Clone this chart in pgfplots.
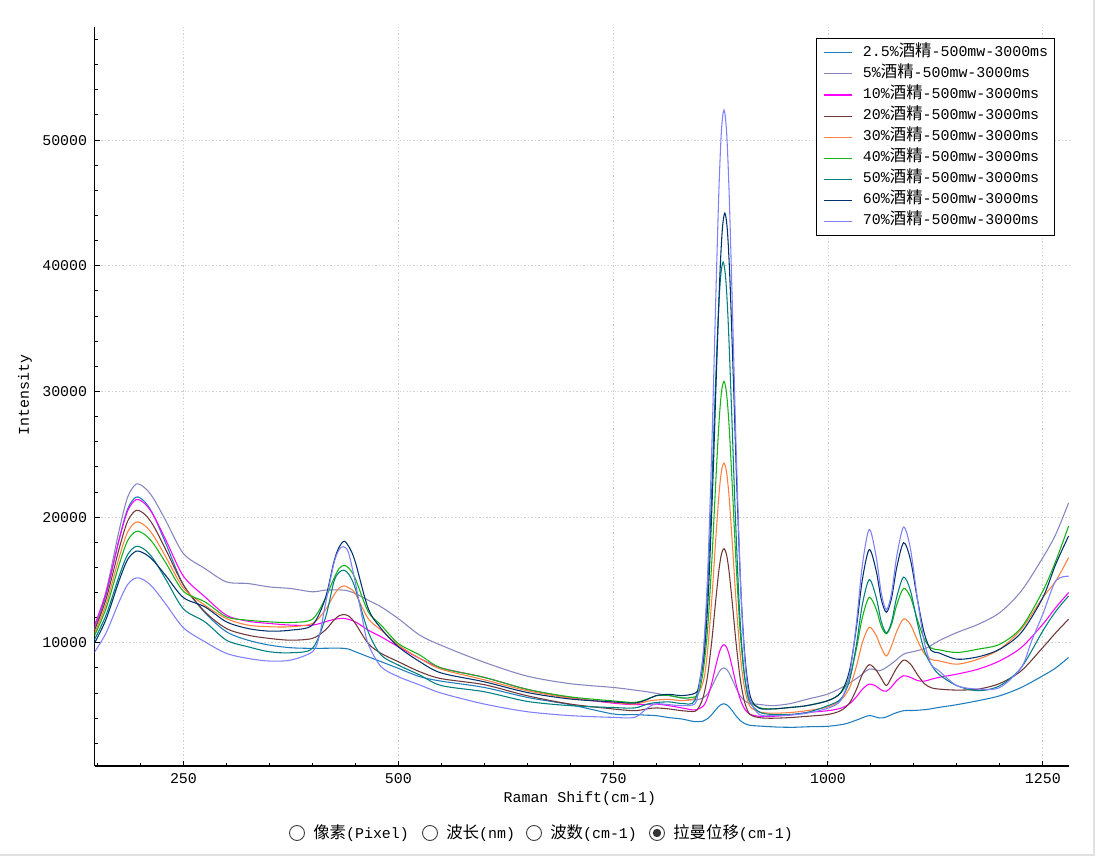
\documentclass[border=0pt]{standalone}
\usepackage{fontspec}
\setmainfont{Liberation Mono}
\newfontfamily\cjk[Scale=1.1]{Noto Sans CJK SC}
\usepackage{pgfplots}
\pgfplotsset{compat=1.18}
\definecolor{cA}{RGB}{31,125,190}
\definecolor{cB}{RGB}{135,135,192}
\definecolor{cC}{RGB}{255,0,255}
\definecolor{cD}{RGB}{112,56,56}
\definecolor{cE}{RGB}{255,128,64}
\definecolor{cF}{RGB}{20,180,20}
\definecolor{cG}{RGB}{0,128,128}
\definecolor{cH}{RGB}{0,50,110}
\definecolor{cI}{RGB}{128,128,255}
\definecolor{frame}{RGB}{225,225,225}
\newcommand{\lbl}{\fontsize{11.2}{13}\selectfont}
\newcommand{\jj}{{\cjk 酒精}}
\begin{document}
\begin{tikzpicture}
\useasboundingbox (0,0) rectangle (822.75pt,642.75pt);
\fill[white] (0,0) rectangle (822.75pt,642.75pt);
\begin{axis}[
  at={(70.875pt,68.25pt)}, anchor=south west,
  scale only axis, width=730.9pt, height=554.25pt,
  xmin=146.5, xmax=1280.5, ymin=200, ymax=59000,
  axis lines*=left,
  axis line style={-, line width=1pt, black},
  tick align=inside,
  major tick length=3.75pt, minor tick length=2.25pt,
  tick style={black, line width=0.75pt},
  xtick={250,500,750,1000,1250},
  ytick={10000,20000,30000,40000,50000},
  minor xtick={150,200,...,1250},
  minor ytick={2000,4000,...,58000},
  scaled y ticks=false, scaled x ticks=false,
  /pgf/number format/assume math mode=true,
  /pgf/number format/1000 sep={},
  tick label style={font=\lbl},
  xticklabel style={yshift=-2.4pt},
  yticklabel style={xshift=-2pt},
  grid=major,
  major grid style={dash pattern=on 1pt off 1.6pt, gray!38, line width=0.6pt},
  xlabel={Raman Shift(cm-1)},
  ylabel={Intensity},
  label style={font=\lbl},
  xlabel style={at={(axis description cs:0.498,-0.0447)}, anchor=center},
  ylabel style={at={(axis description cs:-0.0713,0.502)}, anchor=center},
  legend image code/.code={\draw[#1] (0pt,0pt) -- (21pt,0pt);},
  legend cell align=left,
  legend style={at={(axis description cs:0.7404,0.985)}, anchor=north west,
    draw=black, line width=0.75pt, fill=white,
    font=\lbl, inner xsep=5pt, inner ysep=2.8pt,
    row sep=0pt, column sep=8pt,
    nodes={inner xsep=0pt, inner ysep=2.4pt, text height=8pt, text depth=3pt}},
  every axis plot/.append style={line width=0.8pt},
]
\addplot[cA, smooth] coordinates {(146,11000)(160,13840)(175,18200)(185,20640)(195,21600)(205,21220)(215,20180)(230,17820)(250,14600)(275,12400)(300,10880)(325,10210)(350,9820)(375,9610)(400,9560)(437,9560)(450,9290)(465,8890)(480,8500)(500,7970)(525,7310)(550,6950)(600,6450)(650,5660)(700,5080)(750,4340)(775,4290)(790,4240)(800,4210)(815,4050)(830,3940)(845,3730)(855,3780)(860,3970)(865,4310)(869,4640)(873,4950)(876,5100)(879,5150)(882,5080)(885,4900)(889,4560)(893,4190)(898,3810)(903,3580)(909,3440)(920,3380)(940,3300)(960,3280)(980,3330)(1000,3360)(1020,3550)(1035,3900)(1048,4210)(1060,4020)(1068,4100)(1076,4350)(1088,4600)(1100,4620)(1115,4700)(1129,4860)(1150,5080)(1175,5400)(1200,5790)(1225,6450)(1250,7380)(1265,8000)(1280,8840)};
\addlegendentry{2.5\%\jj-500mw-3000ms}
\addplot[cB, smooth] coordinates {(146,11000)(160,14120)(175,18900)(185,21580)(195,22630)(205,22330)(215,21500)(230,19650)(250,17100)(275,15910)(300,14850)(325,14720)(350,14450)(375,14320)(400,14060)(415,14190)(437,14190)(450,13920)(465,13390)(480,12860)(500,11930)(525,10610)(550,9800)(600,8450)(650,7350)(700,6750)(750,6450)(775,6240)(790,6100)(800,5980)(815,5790)(830,5610)(845,5450)(855,5630)(860,5960)(865,6540)(869,7120)(873,7650)(876,7920)(879,8000)(882,7890)(885,7590)(889,7020)(893,6400)(898,5770)(903,5390)(909,5170)(920,5100)(935,5000)(955,5150)(975,5500)(1000,5930)(1020,6590)(1035,7250)(1048,7910)(1060,7780)(1068,8050)(1076,8440)(1088,9100)(1100,9310)(1115,9600)(1129,10160)(1150,10820)(1175,11480)(1200,12410)(1225,14130)(1250,16780)(1265,18630)(1280,21140)};
\addlegendentry{5\%\jj-500mw-3000ms}
\addplot[cC, smooth] coordinates {(146,11300)(160,14010)(175,18160)(185,20490)(195,21400)(205,21070)(215,20160)(230,18110)(250,15300)(275,13660)(300,12200)(325,11720)(350,11540)(375,11410)(400,11410)(415,11670)(425,11860)(437,11940)(450,11670)(465,11010)(480,10480)(500,9690)(525,8760)(550,8000)(600,7250)(650,6300)(700,5650)(750,5200)(775,5080)(790,5100)(800,5130)(815,5000)(830,4820)(845,4660)(855,4980)(860,5680)(865,6870)(869,8040)(873,9120)(876,9670)(879,9850)(882,9640)(885,9060)(889,7940)(893,6730)(898,5490)(903,4740)(909,4330)(920,4150)(935,4150)(955,4250)(975,4450)(1000,4600)(1015,4800)(1025,5150)(1033,5700)(1040,6300)(1048,6720)(1056,6550)(1062,6250)(1068,6150)(1074,6500)(1080,7000)(1088,7380)(1096,7250)(1104,7000)(1112,6950)(1120,7100)(1129,7250)(1150,7510)(1175,7910)(1200,8570)(1225,9630)(1250,11480)(1265,12800)(1280,14000)};
\addlegendentry{10\%\jj-500mw-3000ms}
\addplot[cD, smooth] coordinates {(146,10900)(160,13490)(175,17450)(185,19670)(195,20540)(205,20220)(215,19330)(230,17340)(250,14600)(275,12470)(300,11140)(325,10610)(350,10350)(375,10210)(400,10350)(415,11010)(425,11800)(431,12150)(437,12250)(443,12100)(450,11540)(465,9950)(480,9160)(500,8500)(525,7700)(550,7150)(600,6670)(650,5790)(700,5130)(750,4740)(775,4600)(790,4750)(800,4820)(815,4740)(830,4600)(845,4550)(850,4900)(855,5725)(860,7425)(865,10290)(869,13110)(873,15730)(876,17050)(879,17500)(882,17000)(885,15620)(889,12930)(893,10030)(898,7080)(903,5285)(909,4320)(920,4050)(935,4000)(955,4050)(975,4150)(1000,4300)(1015,4610)(1025,5210)(1033,6280)(1040,7490)(1048,8260)(1056,7830)(1062,7180)(1068,6600)(1074,7260)(1080,8000)(1088,8630)(1096,8310)(1104,7480)(1112,6760)(1120,6430)(1129,6320)(1150,6240)(1175,6320)(1200,6770)(1225,7780)(1250,9630)(1265,10800)(1280,11880)};
\addlegendentry{20\%\jj-500mw-3000ms}
\addplot[cE, smooth] coordinates {(146,10700)(160,13090)(175,16750)(185,18810)(195,19610)(205,19330)(215,18540)(230,16770)(250,14350)(275,12990)(300,11930)(325,11410)(350,11280)(375,11280)(400,11540)(415,12600)(425,13790)(431,14350)(437,14530)(443,14350)(450,13920)(465,11930)(480,11010)(500,9820)(525,8760)(550,7900)(600,7060)(650,6190)(700,5600)(750,5260)(775,5130)(790,5350)(800,5450)(815,5500)(830,5400)(845,5600)(855,6940)(860,9450)(865,13670)(869,17820)(873,21690)(876,23640)(879,24300)(882,23570)(885,21550)(889,17590)(893,13340)(898,9000)(903,6380)(909,4970)(920,4500)(935,4400)(955,4450)(975,4600)(1000,4900)(1015,5450)(1025,6410)(1033,8110)(1040,10010)(1048,11240)(1056,10600)(1062,9610)(1068,8950)(1074,9760)(1080,10910)(1088,11900)(1096,11450)(1104,10210)(1112,9150)(1120,8680)(1129,8570)(1150,8300)(1175,8700)(1200,9500)(1225,11090)(1250,13600)(1265,14920)(1280,16780)};
\addlegendentry{30\%\jj-500mw-3000ms}
\addplot[cF, smooth] coordinates {(146,10500)(160,12740)(175,16190)(185,18120)(195,18870)(205,18610)(215,17900)(230,16300)(250,14100)(275,13260)(300,12070)(325,11800)(350,11670)(375,11620)(400,11880)(415,13520)(425,15110)(431,15900)(437,16170)(443,15900)(450,15110)(465,12470)(480,11410)(500,9950)(525,9030)(550,8000)(600,7250)(650,6300)(700,5700)(750,5380)(775,5260)(790,5530)(800,5790)(815,5820)(830,5620)(845,5700)(850,6120)(855,7820)(860,11140)(865,16730)(869,22220)(873,27330)(876,29910)(879,30800)(882,29840)(885,27190)(889,21990)(893,16400)(898,10700)(903,7260)(909,5420)(920,4850)(935,4740)(955,4850)(975,5000)(1000,5400)(1015,6020)(1025,7250)(1033,9500)(1040,12010)(1048,13620)(1056,12690)(1062,11320)(1068,10720)(1074,11470)(1080,13020)(1088,14330)(1096,13630)(1104,11850)(1112,10310)(1120,9590)(1129,9450)(1150,9230)(1175,9500)(1200,9890)(1225,11220)(1250,14130)(1265,16500)(1280,19290)};
\addlegendentry{40\%\jj-500mw-3000ms}
\addplot[cG, smooth] coordinates {(146,10200)(160,12210)(175,15280)(185,17010)(195,17680)(205,17410)(215,16670)(230,14990)(250,12700)(275,11670)(300,10210)(325,9690)(350,9290)(375,9210)(400,9560)(415,11940)(425,14850)(431,15600)(437,15780)(443,15400)(450,14320)(465,10880)(480,9030)(500,8230)(525,7440)(550,6600)(600,6110)(650,5340)(700,5000)(750,4850)(775,4820)(790,5130)(800,5250)(815,5300)(830,5180)(845,5400)(854,8520)(859,13130)(864,20840)(868,28430)(872,35490)(875,39060)(878,40300)(881,38990)(884,35350)(888,28200)(892,20520)(897,12680)(902,7960)(908,5450)(920,4500)(935,4300)(955,4300)(975,4450)(1000,5000)(1015,5540)(1025,6980)(1033,9830)(1040,13050)(1048,15030)(1056,13640)(1062,11690)(1068,10790)(1074,11670)(1080,13640)(1088,15230)(1096,14140)(1104,11600)(1112,9400)(1120,8290)(1129,7500)(1150,6590)(1175,6190)(1200,6590)(1225,8040)(1250,10950)(1265,12500)(1280,13730)};
\addlegendentry{50\%\jj-500mw-3000ms}
\addplot[cH, smooth] coordinates {(146,9900)(160,11880)(175,14920)(185,16620)(195,17290)(205,17090)(215,16540)(230,15300)(250,13600)(275,12860)(300,11670)(325,11140)(350,10930)(375,11010)(400,11410)(415,13520)(425,16430)(431,17600)(437,18080)(443,17600)(450,16430)(465,12730)(480,11140)(500,9690)(525,8500)(550,7600)(600,6900)(650,6050)(700,5530)(750,5300)(775,5200)(790,5500)(800,5800)(815,5900)(830,5800)(845,5980)(850,6540)(856,9140)(861,14220)(866,22740)(870,31110)(874,38900)(877,42840)(880,44200)(883,42750)(886,38720)(890,30810)(894,22320)(899,13650)(904,8420)(910,5640)(920,4800)(935,4740)(955,4850)(975,5000)(1000,5400)(1015,6050)(1025,7780)(1033,11190)(1040,15030)(1048,17420)(1056,15760)(1062,13460)(1068,12430)(1074,13560)(1080,15990)(1088,17960)(1096,16610)(1104,13490)(1112,10770)(1120,9400)(1129,9200)(1150,8700)(1175,8890)(1200,9500)(1225,10820)(1250,13600)(1265,16250)(1280,18500)};
\addlegendentry{60\%\jj-500mw-3000ms}
\addplot[cI, smooth] coordinates {(146,9200)(160,10800)(175,13250)(185,14630)(195,15170)(205,14960)(215,14360)(230,13030)(250,11200)(275,10080)(300,9160)(325,8760)(350,8550)(375,8630)(400,9290)(408,10500)(415,13000)(425,16300)(431,17400)(436,17650)(442,17200)(450,14800)(458,12000)(465,9900)(480,8100)(500,7310)(525,6650)(550,6000)(600,5130)(650,4520)(700,4210)(750,4070)(775,4070)(790,4820)(800,5150)(815,5080)(830,5000)(845,5130)(849,6050)(855,9290)(860,15550)(865,26020)(869,36300)(873,45860)(876,50710)(879,52400)(882,50660)(885,45760)(889,36130)(893,25780)(898,15240)(903,8890)(909,5550)(920,4300)(935,4210)(955,4250)(975,4400)(1000,4800)(1015,5430)(1025,7430)(1033,11530)(1040,16180)(1048,19020)(1056,16890)(1062,13980)(1068,12640)(1074,13960)(1080,16890)(1088,19210)(1096,17470)(1104,13530)(1112,10090)(1120,8300)(1129,7780)(1150,6600)(1175,6320)(1200,6450)(1225,8040)(1237,10160)(1250,12280)(1265,14920)(1280,15300)};
\addlegendentry{70\%\jj-500mw-3000ms}
\end{axis}
\begin{scope}[x=0.75pt,y=0.75pt]
  \draw[frame, line width=1.2pt] (0,2) -- (1094,2) -- (1094,857);
  \foreach \cx in {297,430,534}{
    \draw[black!75, line width=0.7pt] (\cx,24) circle (7.5);
  }
  \draw[black!75, line width=0.7pt] (657,24) circle (7.5);
  \fill[black!80] (657,24) circle (4.2);
  \node[anchor=west, inner sep=0pt, font=\lbl] at (313,24) {{\cjk 像素}(Pixel)};
  \node[anchor=west, inner sep=0pt, font=\lbl] at (446,24) {{\cjk 波长}(nm)};
  \node[anchor=west, inner sep=0pt, font=\lbl] at (550,24) {{\cjk 波数}(cm-1)};
  \node[anchor=west, inner sep=0pt, font=\lbl] at (673,24) {{\cjk 拉曼位移}(cm-1)};
\end{scope}
\end{tikzpicture}
\end{document}
